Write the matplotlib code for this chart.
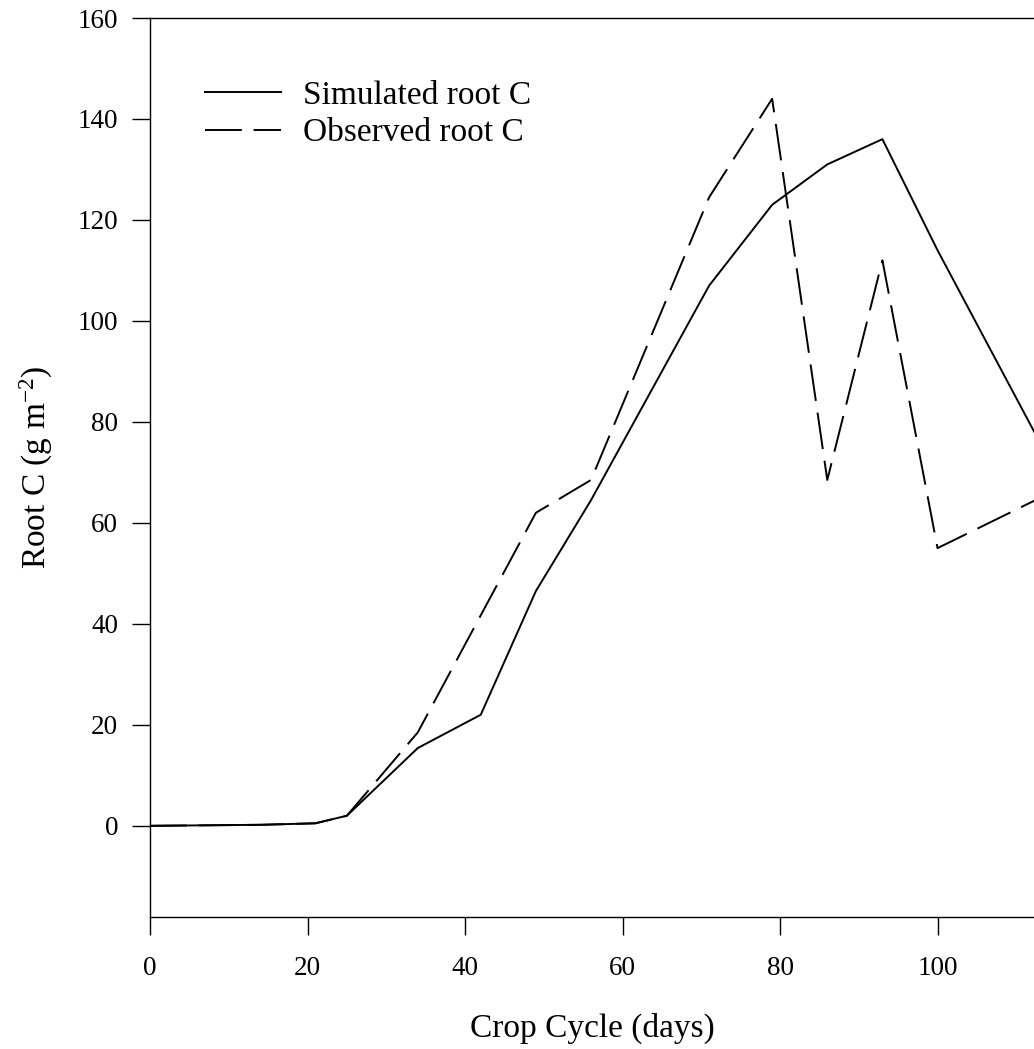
import matplotlib
matplotlib.use("Agg")
import matplotlib.pyplot as plt

# Data
sim_days = [0, 7, 14, 21, 25, 34, 42, 49, 56, 71, 79, 86, 93, 100, 114]
sim_root_c = [0, 0.1, 0.2, 0.5, 2.0, 15.4, 22.0, 46.5, 64.5, 107, 123, 131, 136, 114, 73]

obs_days = [0, 7, 14, 21, 25, 34, 49, 56, 71, 79, 86, 93, 100, 114]
obs_root_c = [0, 0.1, 0.2, 0.5, 2.0, 18.5, 62, 68.5, 124.5, 144, 68.5, 112, 55, 65.7]

xticks = [0, 20, 40, 60, 80, 100]
yticks = [0, 20, 40, 60, 80, 100, 120, 140, 160]

plt.rcParams['font.family'] = ['Liberation Serif', 'DejaVu Serif']
plt.rcParams['mathtext.fontset'] = 'custom'
plt.rcParams['mathtext.rm'] = 'Liberation Serif'
plt.rcParams['mathtext.it'] = 'Liberation Serif'
plt.rcParams['lines.scale_dashes'] = False

fig = plt.figure(figsize=(10.34, 10.49), dpi=100)
ax = fig.add_axes([150/1034, 1 - 916.7/1049, 1 - 150/1034, (916.7 - 18)/1049])

ax.plot(sim_days, sim_root_c, color='black', lw=1.4, label='Simulated root C')
ax.plot(obs_days, obs_root_c, color='black', lw=1.4, linestyle=(0, (26.5, 8.5)),
        label='Observed root C')

ax.set_xlim(0, 112.25)
ax.set_ylim(-18, 160)
ax.set_xticks(xticks)
ax.set_yticks(yticks)
ax.tick_params(direction='out', length=13, width=1.0, labelsize=19.5)
ax.tick_params(axis='x', pad=15)
ax.tick_params(axis='y', pad=10)
ax.spines['right'].set_visible(False)
for s in ['left', 'bottom', 'top']:
    ax.spines[s].set_linewidth(1.0)

ax.set_xlabel('Crop Cycle (days)', fontsize=24, labelpad=23)
ax.set_ylabel('Root C (g m$^{-2}$)', fontsize=24, labelpad=16)

leg = ax.legend(loc='upper left', bbox_to_anchor=(0.062, 0.931), frameon=False,
                borderaxespad=0, borderpad=0,
                fontsize=24, handlelength=2.28, handletextpad=0.66, labelspacing=0.22)

fig.savefig('out.png', dpi=100)
